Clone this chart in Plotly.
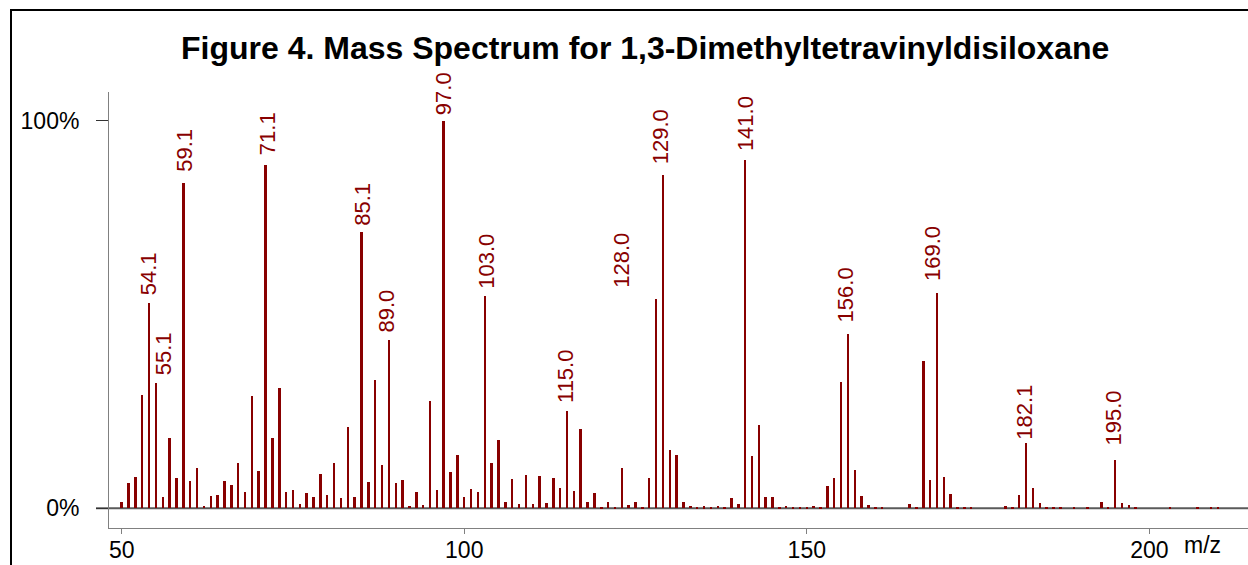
import plotly.graph_objects as go

# m/z positions and relative intensities (%)
mz = [50, 51, 52, 53, 54, 55, 56, 57, 58, 59, 60, 61, 62, 63, 64, 65, 66, 67, 68, 69,
      70, 71, 72, 73, 74, 75, 76, 77, 78, 79, 80, 81, 82, 83, 84, 85, 86, 87, 88, 89,
      90, 91, 92, 93, 94, 95, 96, 97, 98, 99, 100, 101, 102, 103, 104, 105, 106, 107, 108, 109,
      110, 111, 112, 113, 114, 115, 116, 117, 118, 119, 120, 121, 122, 123, 124, 125, 126, 127, 128, 129,
      130, 131, 132, 133, 134, 135, 136, 137, 138, 139, 140, 141, 142, 143, 144, 145, 146, 147, 148, 149,
      150, 151, 152, 153, 154, 155, 156, 157, 158, 159, 160, 161, 165, 166, 167, 168, 169, 170, 171, 172,
      173, 174, 179, 180, 181, 182, 183, 184, 185, 186, 187, 189, 191, 193, 194, 195, 196, 197, 198, 203,
      207, 209, 210]
intensity = [1.7, 6.5, 8.1, 29.2, 53.1, 32.4, 3.0, 18.2, 7.8, 84.0, 7.0, 10.4, 0.7, 3.1, 3.5, 7.1, 6.0, 11.7, 4.1, 29.0,
             9.6, 88.6, 18.2, 31.1, 4.3, 4.7, 1.0, 3.9, 2.9, 8.9, 3.4, 11.7, 2.6, 21.1, 2.9, 71.4, 6.8, 33.1, 11.2, 43.4,
             6.6, 7.2, 0.6, 4.2, 0.9, 27.8, 4.6, 100.0, 9.4, 13.7, 2.8, 4.9, 4.2, 54.7, 11.8, 17.6, 1.5, 7.5, 1.0, 8.6,
             1.0, 8.4, 1.3, 7.8, 5.3, 25.0, 4.5, 20.6, 1.6, 3.9, 0.4, 1.7, 0.3, 10.5, 0.8, 1.6, 0.4, 7.9, 54.0, 86.1,
             15.0, 13.7, 1.5, 0.6, 0.2, 0.5, 0.2, 0.6, 0.3, 2.6, 1.0, 89.8, 13.4, 21.5, 2.8, 3.0, 0.3, 0.6, 0.2, 0.3,
             0.2, 0.6, 0.2, 5.8, 7.7, 32.5, 45.0, 9.8, 3.2, 0.8, 0.2, 0.1, 1.2, 0.3, 38.0, 7.3, 55.7, 8.2, 3.8, 0.3,
             0.3, 0.2, 0.5, 0.3, 3.5, 16.8, 5.3, 1.3, 0.4, 0.2, 0.2, 0.2, 0.3, 1.6, 0.3, 12.5, 1.4, 0.8, 0.2, 0.2,
             0.3, 0.3, 0.2]

# labelled peaks: bar position, label text
peak_mz = [54, 55, 59, 71, 85, 89, 97, 103, 115, 128, 129, 141, 156, 169, 182, 195]
peak_labels = ["54.1", "55.1", "59.1", "71.1", "85.1", "89.0", "97.0", "103.0", "115.0",
               "128.0", "129.0", "141.0", "156.0", "169.0", "182.1", "195.0"]
# horizontal / vertical pixel nudges of labels (layout only)
peak_xshift = [-1, 7, 1, 2, 1, -2, 0, 2, -1, -34, -3, 1, -2, -5, -1, -2]
peak_yshift = [5, 6, 9, 8, 4, 6, 4, 6, 6, 9, 9, 7, 10, 10, 1, 12]

x_ticks = [50, 100, 150, 200]
y_ticks = [0, 100]
y_ticktext = ["0%", "100%"]

RED = "#880000"
FONT = "Liberation Sans, Arial, sans-serif"

W, H = 1248, 565
ML, MR, MT, MB = 109, 0, 92, 37
PW, PH = W - ML - MR, H - MT - MB


def px2paper_x(px):
    return (px - ML) / PW


def px2paper_y(py):
    return (H - MB - py) / PH


fig = go.Figure()
fig.add_trace(go.Bar(x=mz, y=intensity, width=0.36, marker=dict(color=RED, line=dict(width=0)),
                     showlegend=False, hoverinfo="x+y"))

annotations = []
for m, lab, dx, dy in zip(peak_mz, peak_labels, peak_xshift, peak_yshift):
    v = intensity[mz.index(m)]
    annotations.append(dict(x=m, y=v, xref="x", yref="y", text=lab, showarrow=False,
                            textangle=-90, xanchor="center", yanchor="bottom",
                            xshift=dx, yshift=dy,
                            font=dict(family=FONT, size=22, color=RED)))

annotations.append(dict(x=px2paper_x(645), y=px2paper_y(48), xref="paper", yref="paper",
                        text="<b>Figure 4. Mass Spectrum for 1,3-Dimethyltetravinyldisiloxane</b>",
                        showarrow=False, xanchor="center", yanchor="middle",
                        font=dict(family=FONT, size=32, color="black")))
annotations.append(dict(x=px2paper_x(1202), y=px2paper_y(545), xref="paper", yref="paper",
                        text="m/z", showarrow=False, xanchor="center", yanchor="middle",
                        font=dict(family=FONT, size=23, color="black")))

shapes = [
    # baseline at 0%
    dict(type="line", xref="paper", yref="y", x0=px2paper_x(96), x1=1.0, y0=0, y1=0,
         line=dict(color="#5a5a5a", width=2), layer="below"),
    # page border
    dict(type="rect", xref="paper", yref="paper", x0=px2paper_x(11), x1=px2paper_x(1320),
         y0=px2paper_y(800), y1=px2paper_y(10), line=dict(color="black", width=2),
         fillcolor="rgba(0,0,0,0)", layer="above"),
]

fig.update_layout(
    width=W, height=H,
    margin=dict(l=ML, r=MR, t=MT, b=MB, pad=0),
    paper_bgcolor="white", plot_bgcolor="white",
    bargap=0,
    annotations=annotations,
    shapes=shapes,
    font=dict(family=FONT, color="black"),
    xaxis=dict(range=[48.146, 214.40], tickvals=x_ticks, ticks="outside", ticklen=5,
               tickcolor="#808080", tickwidth=1, showline=True, linecolor="#808080", linewidth=1,
               showgrid=False, zeroline=False, tickfont=dict(family=FONT, size=23, color="black"),
               ticklabelstandoff=-4, fixedrange=True),
    yaxis=dict(range=[-5.09, 107.48], tickvals=y_ticks, ticktext=y_ticktext, ticks="outside",
               ticklen=12, tickcolor="#333333", tickwidth=1, showline=True, linecolor="#808080",
               linewidth=1, showgrid=False, zeroline=False,
               tickfont=dict(family=FONT, size=23, color="black"), ticklabelstandoff=12,
               fixedrange=True),
)

fig.write_html("out.html", config={"displayModeBar": False},
               post_script="document.body.style.margin='0px';document.body.style.overflow='hidden';")
